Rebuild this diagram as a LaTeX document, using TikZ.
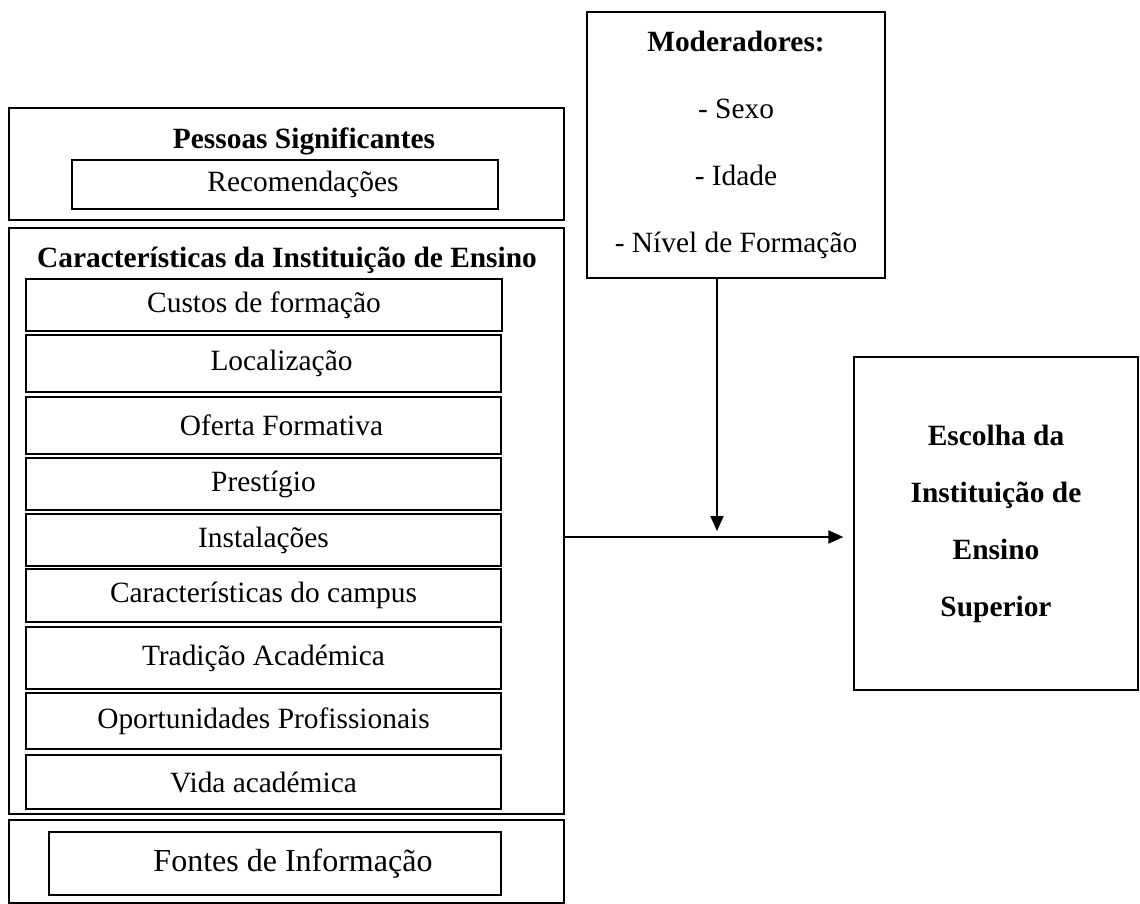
\documentclass[tikz,border=0pt]{standalone}
\usepackage{fontspec}
\setmainfont{Liberation Serif}
\usetikzlibrary{arrows.meta}
\tikzstyle{group} = [draw, rectangle, line width=0.65pt, inner sep=0pt]
\tikzstyle{factor} = [draw, rectangle, line width=0.9pt, inner sep=0pt,
    minimum width=238pt, font=\fontsize{14.7}{17}\selectfont]
\tikzstyle{heading} = [font=\fontsize{14.7}{17}\selectfont\bfseries]
\tikzstyle{link} = [line width=1pt, -{Triangle[width=6.5pt,length=7.5pt]}]
% some labels sit off centre, as in the source
\newcommand{\indentlabel}[1]{\hspace*{18pt}#1}

\begin{document}
\begin{tikzpicture}[x=0.5pt, y=-0.5pt]
    \useasboundingbox (0,0) rectangle (1140,904);
    % We start by placing the outer groups
    \node [group, minimum width=277.5pt, minimum height=56pt] (pessoas) at (286.5,164) {};
    \node [group, minimum width=277.5pt, minimum height=293pt] (caract) at (286.5,521) {};
    \node [group, minimum width=277.5pt, minimum height=41.5pt] (fontes) at (286.5,861.5) {};
    \node [heading] (pessoastitle) at (304,141) {Pessoas Significantes};
    \node [heading] (caracttitle) at (287,260) {Características da Instituição de Ensino};

    % the factors inside each group
    \node [factor, minimum width=213pt, minimum height=24.5pt] (recomendacoes) at (285,184.5) {\indentlabel{Recomendações}};
    \node [factor, minimum height=26pt] (custos) at (264,305) {Custos de formação};
    \node [factor, minimum width=237.5pt, minimum height=28.5pt] (localizacao) at (263.5,363.5) {\indentlabel{Localização}};
    \node [factor, minimum width=237.5pt, minimum height=28.5pt] (oferta) at (263.5,425.5) {\indentlabel{Oferta Formativa}};
    \node [factor, minimum width=237.5pt, minimum height=26pt] (prestigio) at (263.5,484) {Prestígio};
    \node [factor, minimum width=237.5pt, minimum height=26pt] (instalacoes) at (263.5,540) {Instalações};
    \node [factor, minimum width=237.5pt, minimum height=26.5pt] (campus) at (263.5,595.5) {Características do campus};
    \node [factor, minimum width=237.5pt, minimum height=31pt] (tradicao) at (263.5,658) {Tradição Académica};
    \node [factor, minimum width=237.5pt, minimum height=28pt] (oportunidades) at (263.5,721) {Oportunidades Profissionais};
    \node [factor, minimum width=237.5pt, minimum height=27pt] (vida) at (263.5,782) {Vida académica};
    \node [factor, minimum width=226pt, minimum height=31.5pt,
        font=\fontsize{16}{19}\selectfont] (informacao) at (275,863.5) {\indentlabel{Fontes de Informação}};

    % moderators and the outcome
    \node [group, minimum width=149pt, minimum height=133pt, align=center,
        font=\fontsize{14.7}{33.5}\selectfont] (moderadores) at (736,145)
        {{\bfseries Moderadores:}\\- Sexo\\- Idade\\- Nível de Formação};
    \node [group, minimum width=142pt, minimum height=166.5pt, align=center,
        font=\fontsize{14.7}{28.5}\selectfont\bfseries] (escolha) at (996,523.5)
        {Escolha da\\Instituição de\\Ensino\\Superior};

    % Once the nodes are placed, connecting them is easy.
    \coordinate (junction) at (717,537);
    \draw [link] (moderadores.south -| junction) -- ([yshift=3pt]junction);
    \draw [link, shorten >=5pt] (caract.east |- junction) -- (escolha.west |- junction);
\end{tikzpicture}
\end{document}
